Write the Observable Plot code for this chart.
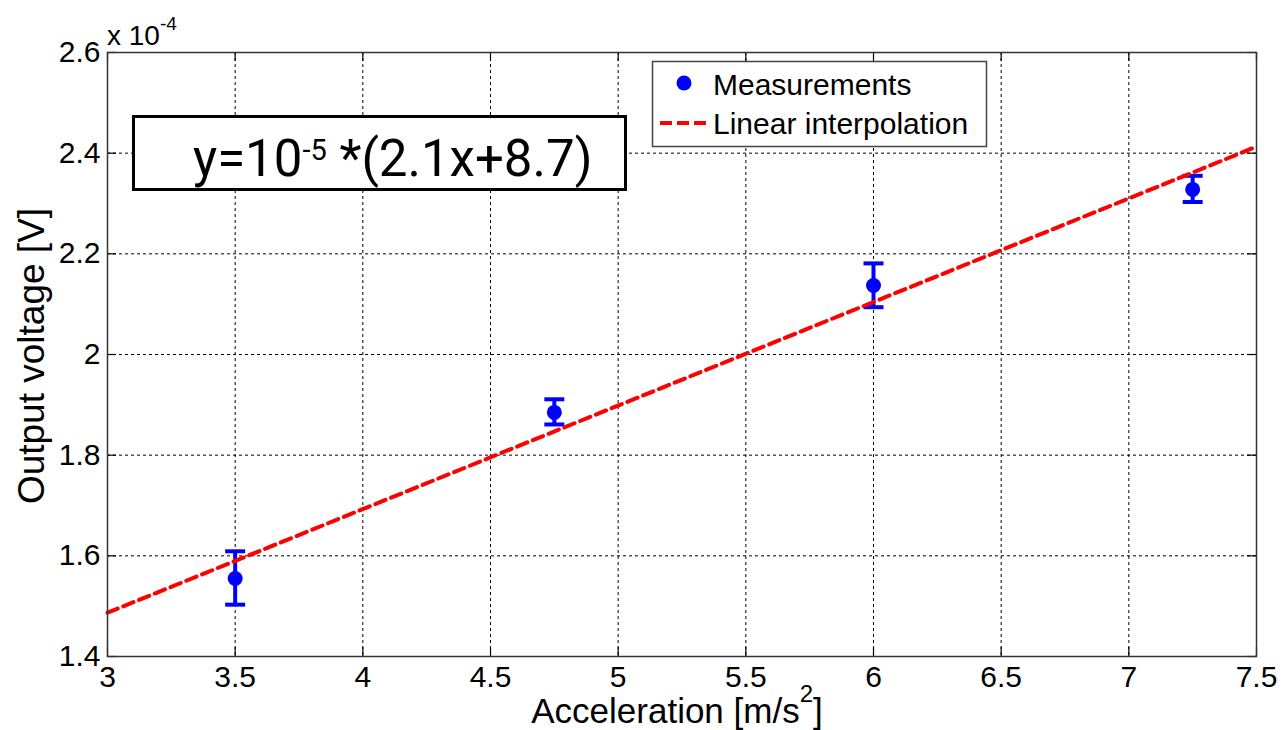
<!DOCTYPE html>
<html>
<head>
<meta charset="utf-8">
<script src="https://cdn.jsdelivr.net/npm/d3@7"></script>
<script src="https://cdn.jsdelivr.net/npm/@observablehq/plot@0.6"></script>
<style>
  html, body { margin: 0; padding: 0; background: #ffffff; }
  #chart { width: 1281px; height: 730px; }
</style>
</head>
<body>
<div id="chart"></div>
<script>
// ---- data (values in units of 10^-4 V) ----
const accel = [3.5, 4.75, 6.0, 7.25];
const voltage = [1.555, 1.885, 2.137, 2.328];
const errLow = [1.503, 1.861, 2.094, 2.303];
const errHigh = [1.609, 1.911, 2.181, 2.355];

const fitX = [3, 7.5];
const fitY = [1.487, 2.413];

const xTicks = [3, 3.5, 4, 4.5, 5, 5.5, 6, 6.5, 7, 7.5];
const xTickLabels = ["3", "3.5", "4", "4.5", "5", "5.5", "6", "6.5", "7", "7.5"];
const yTicks = [1.4, 1.6, 1.8, 2.0, 2.2, 2.4, 2.6];
const yTickLabels = ["1.4", "1.6", "1.8", "2", "2.2", "2.4", "2.6"];

const points = accel.map((x, i) => ({x, y: voltage[i], lo: errLow[i], hi: errHigh[i]}));
const fitLine = fitX.map((x, i) => ({x, y: fitY[i]}));

const BLUE = "#0000ff";
const RED = "#ff0000";
const W = 1281, H = 730;
const M = {top: 52, right: 25, bottom: 74, left: 107};
const plotH = H - M.top - M.bottom;
const plotW = W - M.left - M.right;
const TICK = 9;

const capSymbol = {
  draw(context) {
    context.moveTo(-10, 0);
    context.lineTo(10, 0);
  }
};

const chart = Plot.plot({
  width: W,
  height: H,
  marginTop: M.top,
  marginRight: M.right,
  marginBottom: M.bottom,
  marginLeft: M.left,
  style: {fontFamily: "'Liberation Sans', Arial, sans-serif", fontSize: "30px", background: "#ffffff", color: "#000"},
  x: {domain: [3, 7.5], label: null},
  y: {domain: [1.4, 2.6], label: null},
  marks: [
    Plot.gridX(xTicks, {stroke: "#000", strokeOpacity: 1, strokeWidth: 1, strokeDasharray: "3,3"}),
    Plot.gridY(yTicks, {stroke: "#000", strokeOpacity: 1, strokeWidth: 1, strokeDasharray: "3,3"}),
    Plot.ruleX(points, {x: "x", y1: "lo", y2: "hi", stroke: BLUE, strokeWidth: 4}),
    Plot.dot(points, {x: "x", y: "lo", symbol: capSymbol, stroke: BLUE, strokeWidth: 4, r: 5}),
    Plot.dot(points, {x: "x", y: "hi", symbol: capSymbol, stroke: BLUE, strokeWidth: 4, r: 5}),
    Plot.dot(points, {x: "x", y: "y", r: 7.5, fill: BLUE, stroke: null}),
    Plot.line(fitLine, {x: "x", y: "y", stroke: RED, strokeWidth: 4, strokeDasharray: "11,6"}),
    // inward tick marks on all four sides
    Plot.tickX(xTicks, {x: d => d, stroke: "#000", strokeWidth: 1.2, insetTop: plotH - TICK}),
    Plot.tickX(xTicks, {x: d => d, stroke: "#000", strokeWidth: 1.2, insetBottom: plotH - TICK}),
    Plot.tickY(yTicks, {y: d => d, stroke: "#000", strokeWidth: 1.2, insetRight: plotW - TICK}),
    Plot.tickY(yTicks, {y: d => d, stroke: "#000", strokeWidth: 1.2, insetLeft: plotW - TICK}),
    Plot.frame({stroke: "#333", strokeWidth: 1.5}),
    Plot.axisX(xTicks, {tickSize: 0, tickPadding: 9, fontSize: 30, tickFormat: (d, i) => xTickLabels[i], label: null}),
    Plot.axisY(yTicks, {tickSize: 0, tickPadding: 7, fontSize: 30, tickFormat: (d, i) => yTickLabels[i], label: null})
  ]
});

document.getElementById("chart").appendChild(chart);

// ---- annotations ----
const svg = d3.select(chart);
const font = "'Liberation Sans', Arial, sans-serif";

// exponent label "x 10^-4"
const expo = svg.append("text")
  .attr("x", 107).attr("y", 45).attr("text-anchor", "start")
  .attr("font-family", font).attr("font-size", 28).attr("fill", "#000");
expo.append("tspan").text("x 10");
expo.append("tspan").attr("dy", -15).attr("font-size", 19).text("-4");

// equation box
svg.append("rect")
  .attr("x", 133.5).attr("y", 116.5).attr("width", 492).attr("height", 73)
  .attr("fill", "#fff").attr("stroke", "#000").attr("stroke-width", 3);
const eq = svg.append("text")
  .attr("x", 193).attr("y", 176).attr("text-anchor", "start")
  .attr("font-family", "Roboto, 'Noto Sans', sans-serif").attr("font-size", 51).attr("fill", "#000");
eq.append("tspan").text("y=10");
eq.append("tspan").attr("dy", -16).attr("font-size", 29).text("-5");
eq.append("tspan").attr("dy", 16).attr("font-size", 51).text(" *(2.1x+8.7)");

// legend
svg.append("rect")
  .attr("x", 652.5).attr("y", 61.5).attr("width", 334).attr("height", 85)
  .attr("fill", "#fff").attr("stroke", "#444").attr("stroke-width", 1.5);
svg.append("circle").attr("cx", 684).attr("cy", 83).attr("r", 7.5).attr("fill", BLUE);
svg.append("text").attr("x", 713).attr("y", 95).attr("text-anchor", "start")
  .attr("font-family", font).attr("font-size", 30).attr("fill", "#000").text("Measurements");
svg.append("line").attr("x1", 660).attr("x2", 707).attr("y1", 123).attr("y2", 123)
  .attr("stroke", RED).attr("stroke-width", 4).attr("stroke-dasharray", "12,5");
svg.append("text").attr("x", 713).attr("y", 134).attr("text-anchor", "start")
  .attr("font-family", font).attr("font-size", 30).attr("fill", "#000").text("Linear interpolation");

// axis titles
const xl = svg.append("text")
  .attr("x", 677).attr("y", 723).attr("text-anchor", "middle")
  .attr("font-family", font).attr("font-size", 35).attr("fill", "#000");
xl.append("tspan").text("Acceleration [m/s");
xl.append("tspan").attr("dy", -21).attr("font-size", 24).text("2");
xl.append("tspan").attr("dy", 21).attr("font-size", 35).text("]");

svg.append("text")
  .attr("transform", "translate(44,356) rotate(-90)")
  .attr("text-anchor", "middle")
  .attr("font-family", font).attr("font-size", 37).attr("fill", "#000")
  .text("Output voltage [V]");
</script>
</body>
</html>
